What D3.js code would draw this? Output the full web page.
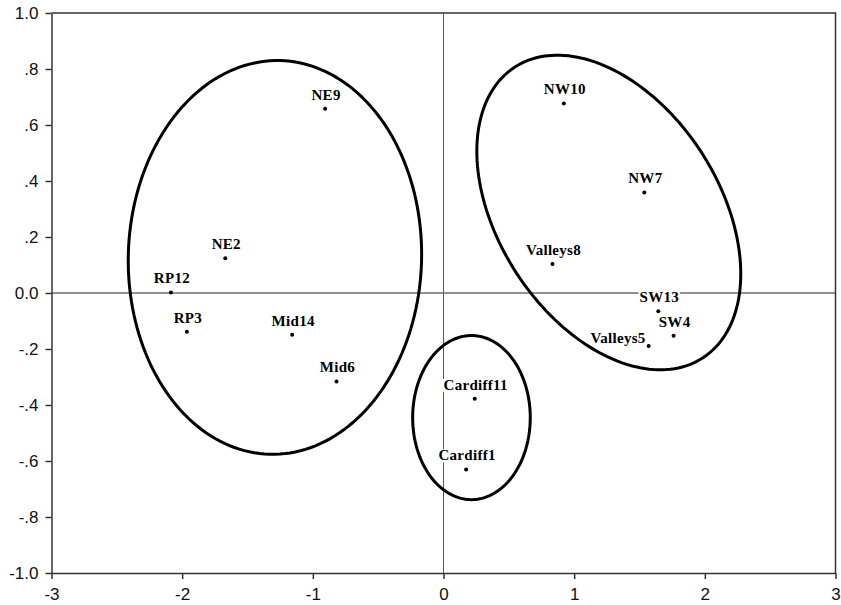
<!DOCTYPE html>
<html>
<head>
<meta charset="utf-8">
<script src="https://cdn.jsdelivr.net/npm/d3@7"></script>
<style>
  html, body { margin: 0; padding: 0; background: #fff; }
  svg { display: block; }
</style>
</head>
<body>
<svg id="chart" width="841" height="605"></svg>
<script>
// ---- data ----
const sites = ["NE9", "NE2", "RP12", "RP3", "Mid14", "Mid6", "Cardiff11", "Cardiff1",
               "NW10", "NW7", "Valleys8", "SW13", "SW4", "Valleys5"];
const dim1 = [-0.906, -1.670, -2.086, -1.964, -1.158, -0.819, 0.239, 0.173,
               0.921, 1.537, 0.834, 1.644, 1.761, 1.570];
const dim2 = [0.658, 0.124, 0.002, -0.138, -0.149, -0.316, -0.378, -0.630,
               0.677, 0.359, 0.104, -0.065, -0.153, -0.189];
const xTicks = [-3, -2, -1, 0, 1, 2, 3];
const xTickLabels = ["-3", "-2", "-1", "0", "1", "2", "3"];
const yTicks = [1.0, 0.8, 0.6, 0.4, 0.2, 0.0, -0.2, -0.4, -0.6, -0.8, -1.0];
const yTickLabels = ["1.0", ".8", ".6", ".4", ".2", "0.0", "-.2", "-.4", "-.6", "-.8", "-1.0"];
// cluster ellipses: centre and two conjugate semi-axis vectors, in data units
const clusterNames = ["North/Rural", "West/South", "Cardiff"];
const clusterCx = [-1.290, 1.265, 0.214];
const clusterCy = [0.127, 0.2875, -0.445];
const clusterUx = [0.040, 0.699, 0.000];
const clusterUy = [0.703, -0.525, 0.293];
const clusterVx = [1.122, -0.729, 0.450];
const clusterVy = [-0.0137, -0.200, 0.000];

// ---- layout ----
const svg = d3.select("#chart");
const x = d3.scaleLinear().domain([-3, 3]).range([51.5, 835.5]);
const y = d3.scaleLinear().domain([-1, 1]).range([573, 13]);
const axisColor = "#333";

// frame (top and right)
svg.append("path")
  .attr("d", `M${x(-3)},${y(1)}H${x(3)}V${y(-1)}`)
  .attr("fill", "none").attr("stroke", axisColor).attr("stroke-width", 1.5);

// reference lines at 0
svg.append("line")
  .attr("x1", x(-3)).attr("x2", x(3)).attr("y1", y(0)).attr("y2", y(0))
  .attr("stroke", "#222").attr("stroke-width", 1);
svg.append("line")
  .attr("x1", x(0)).attr("x2", x(0)).attr("y1", y(1)).attr("y2", y(-1))
  .attr("stroke", "#555").attr("stroke-width", 1);

// axes
const xAxis = d3.axisBottom(x).tickValues(xTicks)
  .tickFormat((d, i) => xTickLabels[i]).tickSizeInner(6).tickSizeOuter(0).tickPadding(9);
const yAxis = d3.axisLeft(y).tickValues(yTicks)
  .tickFormat((d, i) => yTickLabels[i]).tickSizeInner(6).tickSizeOuter(0).tickPadding(7);

const gx = svg.append("g").attr("transform", `translate(0,${y(-1)})`).call(xAxis);
const gy = svg.append("g").attr("transform", `translate(${x(-3)},0)`).call(yAxis);
[gx, gy].forEach(g => {
  g.select(".domain").attr("stroke", axisColor).attr("stroke-width", 1.5);
  g.selectAll(".tick line").attr("stroke", axisColor).attr("stroke-width", 1.5);
  g.selectAll(".tick text")
    .attr("fill", "#111")
    .style("font-family", "Arial, 'Liberation Sans', sans-serif")
    .style("font-size", "17px");
});

// cluster ellipses
const line = d3.line().x(d => x(d[0])).y(d => y(d[1])).curve(d3.curveLinearClosed);
clusterNames.forEach((name, k) => {
  const pts = d3.range(0, 360, 2).map(a => {
    const t = a * Math.PI / 180;
    return [clusterCx[k] + clusterUx[k] * Math.cos(t) + clusterVx[k] * Math.sin(t),
            clusterCy[k] + clusterUy[k] * Math.cos(t) + clusterVy[k] * Math.sin(t)];
  });
  svg.append("path").attr("d", line(pts))
    .attr("fill", "none").attr("stroke", "#000").attr("stroke-width", 3);
});

// points
const pts = sites.map((s, i) => ({ name: s, x: dim1[i], y: dim2[i] }));
svg.append("g").selectAll("circle").data(pts).join("circle")
  .attr("cx", d => x(d.x)).attr("cy", d => y(d.y)).attr("r", 2)
  .attr("fill", "#000");

// labels (with white background like the original)
const lg = svg.append("g");
pts.forEach(d => {
  const endAnchored = d.name === "Valleys5";
  const tx = endAnchored ? x(d.x) - 3 : x(d.x) + 1;
  const ty = endAnchored ? y(d.y) - 3 : y(d.y) - 9;
  const t = lg.append("text")
    .attr("x", tx).attr("y", ty)
    .attr("text-anchor", endAnchored ? "end" : "middle")
    .style("font-family", "'Liberation Serif', 'Times New Roman', serif")
    .style("font-weight", "bold")
    .style("font-size", "15px")
    .style("letter-spacing", "0.3px")
    .attr("fill", "#000")
    .text(d.name);
  const bb = t.node().getBBox();
  lg.insert("rect", () => t.node())
    .attr("x", bb.x - 1).attr("y", bb.y + 2)
    .attr("width", bb.width + 2).attr("height", bb.height - 3)
    .attr("fill", "#fff");
});
</script>
</body>
</html>
